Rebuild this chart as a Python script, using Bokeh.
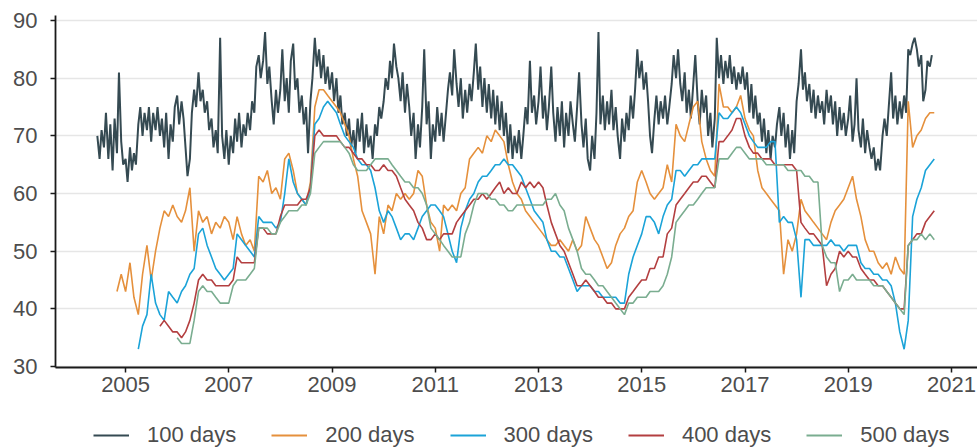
import pandas as pd
from bokeh.plotting import figure
from bokeh.layouts import column
from bokeh.models import Range1d, FixedTicker, Legend, LegendItem, ColumnDataSource
from bokeh.embed import file_html
from bokeh.resources import INLINE

# ---- axis ticks -------------------------------------------------------
tick_years = [2005, 2007, 2009, 2011, 2013, 2015, 2017, 2019, 2021]
tick_labels = [str(y) for y in tick_years]
y_ticks = [30, 40, 50, 60, 70, 80, 90]

# ---- series -----------------------------------------------------------
series_names = ["100 days", "200 days", "300 days", "400 days", "500 days"]
series_colors = ["#354a52", "#e5903c", "#1ba3d8", "#b33f40", "#7aad90"]

# 100-day window, twice a month from mid-June 2004
start_100 = "2004-06-15"
v100 = [
    70, 66, 71, 68, 74, 66, 72, 64, 73, 67, 81, 69, 65,
    66, 62, 68, 64, 67, 65, 72, 75, 70, 74, 71, 75, 69, 74, 71, 75, 70, 73, 68, 74, 66, 72, 69, 75,
    77, 72, 76, 73, 68, 63, 66, 74, 78, 75, 81, 76, 78, 74, 76, 71, 73, 68, 71, 67, 87, 70, 66, 71,
    65, 70, 67, 73, 69, 74, 68, 72, 70, 74, 71, 76, 74, 82, 84, 80, 83, 88, 79, 82, 76, 72, 78, 74,
    78, 85, 76, 80, 74, 83, 86, 78, 80, 74, 77, 72, 75, 67, 76, 80, 87, 82, 85, 80, 84, 79, 82, 78,
    81, 76, 80, 74, 77, 72, 74, 70, 73, 68, 71, 67, 73, 69, 74, 67, 72, 68, 70, 66, 72, 70, 75, 73,
    76, 80, 78, 83, 80, 86, 82, 80, 76, 81, 74, 79, 75, 70, 74, 66, 72, 68, 75, 85, 72, 76, 66, 72,
    69, 75, 70, 74, 69, 73, 78, 81, 77, 85, 79, 75, 80, 73, 78, 74, 79, 76, 81, 86, 78, 82, 75, 80,
    74, 79, 73, 78, 72, 77, 71, 76, 70, 74, 67, 72, 66, 70, 67, 71, 66, 70, 75, 72, 83, 74, 77, 72,
    76, 82, 73, 77, 71, 75, 82, 74, 69, 75, 70, 76, 68, 74, 70, 76, 72, 69, 75, 81, 72, 68, 73, 66,
    64, 70, 66, 74, 88, 72, 77, 71, 76, 72, 78, 71, 75, 70, 66, 73, 69, 74, 71, 77, 73, 78, 85, 80,
    83, 78, 81, 76, 70, 67, 73, 77, 72, 76, 73, 77, 72, 75, 79, 84, 80, 85, 79, 76, 81, 74, 78, 73,
    79, 84, 76, 72, 78, 74, 77, 70, 74, 68, 73, 87, 80, 84, 79, 83, 80, 84, 79, 82, 78, 81, 79, 82,
    78, 81, 74, 79, 73, 77, 72, 74, 69, 73, 67, 71, 66, 70, 68, 72, 75, 70, 74, 68, 72, 66, 71, 67,
    76, 79, 85, 78, 81, 76, 79, 74, 78, 73, 77, 74, 76, 72, 78, 74, 77, 72, 76, 70, 75, 71, 74, 70,
    73, 77, 69, 72, 80, 71, 68, 73, 67, 71, 68, 66, 68, 64, 66, 64, 70, 73, 70, 75, 81, 73, 77, 72,
    76, 73, 77, 74, 85, 84, 86, 87, 85, 82, 84, 76, 78, 83, 82, 84,
]

# longer windows, monthly
start_200 = "2004-11-01"
v200 = [
    43, 46,
    43, 48, 42, 39, 46, 51, 45, 50, 54, 57, 56, 58,
    56, 55, 57, 61, 50, 57, 55, 56, 53, 55, 54, 56,
    55, 52, 56, 53, 51, 52, 50, 63, 62, 64, 60, 61,
    59, 66, 67, 64, 60, 59, 58, 62, 75, 78, 78, 77,
    76, 75, 74, 72, 70, 66, 63, 57, 55, 53, 46, 56,
    53, 58, 57, 60, 59, 60, 59, 60, 64, 63, 58, 55,
    54, 50, 58, 57, 58, 57, 60, 61, 66, 67, 68, 67,
    70, 69, 71, 70, 69, 65, 62, 60, 59, 57, 56, 55,
    54, 53, 52, 51, 51, 52, 51, 50, 52, 50, 51, 56,
    54, 52, 51, 49, 47, 48, 51, 53, 54, 56, 57, 62,
    64, 62, 60, 59, 60, 61, 65, 62, 72, 70, 69, 72,
    75, 76, 69, 66, 64, 63, 79, 75, 75, 74, 75, 77,
    73, 71, 70, 64, 61, 60, 59, 58, 57, 46, 52, 50,
    53, 59, 57, 56, 55, 54, 53, 52, 55, 57, 58, 59,
    61, 63, 59, 56, 52, 50, 50, 48, 47, 48, 46, 49,
    47, 46, 76, 68, 70, 71, 73, 74, 74,
]

start_300 = "2005-04-01"
v300 = [
    33, 37, 39, 46, 41, 39, 38, 43, 42,
    41, 43, 44, 46, 47, 53, 54, 51, 49, 47, 46, 45,
    46, 47, 53, 52, 51, 50, 49, 56, 55, 55, 55, 54,
    55, 60, 66, 62, 60, 59, 58, 61, 72, 73, 75, 76,
    75, 74, 72, 70, 69, 68, 66, 65, 65, 64, 61, 57,
    55, 57, 56, 54, 52, 53, 53, 52, 54, 56, 57, 58,
    58, 57, 56, 53, 50, 48, 54, 57, 59, 60, 62, 63,
    63, 64, 65, 65, 66, 65, 65, 64, 63, 61, 59, 57,
    56, 55, 52, 50, 50, 49, 49, 47, 45, 43, 44, 44,
    44, 43, 43, 42, 42, 42, 42, 41, 41, 46, 49, 51,
    53, 56, 56, 55, 53, 56, 58, 59, 64, 64, 63, 64,
    65, 65, 66, 66, 66, 66, 74, 73, 73, 74, 75, 74,
    72, 70, 69, 68, 68, 68, 69, 69, 55, 56, 55, 55,
    52, 42, 52, 52, 51, 51, 51, 51, 52, 51, 51, 50,
    51, 51, 51, 48, 47, 47, 46, 46, 45, 45, 44, 41,
    36, 33, 38, 56, 59, 61, 64, 65, 66,
]

start_400 = "2005-09-01"
v400 = [
    37, 38, 37, 36,
    36, 35, 36, 38, 41, 45, 46, 45, 45, 44, 44, 44,
    44, 45, 49, 48, 48, 48, 48, 54, 54, 53, 53, 53,
    56, 58, 58, 58, 58, 59, 59, 61, 70, 71, 70, 70,
    70, 70, 69, 68, 68, 67, 66, 66, 65, 65, 64, 64,
    65, 64, 64, 63, 61, 59, 58, 57, 55, 54, 52, 52,
    53, 52, 53, 53, 53, 55, 56, 57, 58, 59, 59, 60,
    59, 60, 61, 62, 60, 61, 60, 60, 62, 61, 62, 61,
    62, 61, 58, 55, 53, 51, 50, 48, 46, 44, 44, 45,
    44, 43, 42, 42, 41, 41, 40, 40, 40, 42, 43, 44,
    45, 45, 47, 47, 49, 49, 53, 54, 58, 59, 60, 61,
    62, 62, 63, 63, 62, 61, 69, 69, 70, 71, 73, 73,
    70, 68, 67, 67, 66, 66, 66, 65, 65, 65, 65, 65,
    64, 55, 54, 53, 53, 52, 51, 44, 46, 47, 50, 49,
    50, 49, 49, 47, 46, 45, 45, 44, 44, 43, 42, 41,
    40, 40, 51, 52, 53, 53, 55, 56, 57,
]

start_500 = "2006-01-01"
v500 = [
    35, 34, 34, 34, 38, 43, 44, 43, 43, 42, 41, 41,
    41, 44, 45, 45, 45, 46, 47, 54, 54, 54, 53, 53,
    55, 56, 57, 57, 57, 58, 58, 60, 67, 68, 69, 69,
    69, 69, 69, 68, 67, 65, 64, 64, 64, 65, 66, 66,
    66, 66, 65, 64, 63, 62, 62, 61, 61, 60, 58, 54,
    53, 52, 51, 50, 49, 49, 49, 53, 55, 58, 60, 60,
    60, 59, 59, 58, 58, 57, 57, 58, 58, 58, 58, 58,
    58, 58, 59, 59, 60, 58, 57, 54, 52, 50, 47, 46,
    46, 45, 44, 44, 43, 42, 41, 40, 39, 41, 41, 42,
    42, 42, 43, 43, 43, 44, 46, 49, 55, 56, 57, 58,
    58, 59, 60, 61, 61, 61, 66, 66, 66, 67, 68, 68,
    67, 66, 66, 66, 66, 65, 65, 65, 65, 65, 64, 64,
    64, 64, 63, 63, 62, 62, 51, 49, 48, 48, 43, 45,
    45, 46, 45, 45, 45, 45, 44, 44, 44, 43, 42, 41,
    40, 39, 51, 52, 52, 53, 52, 53, 52,
]

series = [
    (pd.date_range(start_100, periods=len(v100), freq="SMS"), v100),
    (pd.date_range(start_200, periods=len(v200), freq="MS"), v200),
    (pd.date_range(start_300, periods=len(v300), freq="MS"), v300),
    (pd.date_range(start_400, periods=len(v400), freq="MS"), v400),
    (pd.date_range(start_500, periods=len(v500), freq="MS"), v500),
]
sources = [ColumnDataSource(dict(date=d, value=v)) for d, v in series]

# ---- main chart ---------------------------------------------------------
FONT = "Liberation Sans"
TEXT = "#4d4d4d"

p = figure(
    width=977, height=400,
    x_axis_type="datetime",
    x_range=Range1d(pd.Timestamp("2003-08-24"), pd.Timestamp("2021-07-04")),
    y_range=Range1d(29.83, 90.87),
    output_backend="svg", toolbar_location=None,
    min_border_left=55, min_border_right=0, min_border_top=15, min_border_bottom=33,
)
p.outline_line_color = None
p.background_fill_color = "white"
p.border_fill_color = "white"

for src, name, color in zip(sources, series_names, series_colors):
    width = 2.0 if name == "100 days" else 1.6
    p.line("date", "value", source=src, line_color=color, line_width=width)

p.xaxis.ticker = FixedTicker(ticks=[pd.Timestamp(f"{y}-01-01").value // 10**6 for y in tick_years])
p.xaxis.major_label_overrides = {
    pd.Timestamp(f"{y}-01-01").value // 10**6: lab for y, lab in zip(tick_years, tick_labels)
}
p.yaxis.ticker = FixedTicker(ticks=y_ticks)

for ax in (p.xaxis, p.yaxis):
    ax.axis_line_color = "#1a1a1a"
    ax.axis_line_width = 1.8
    ax.major_tick_line_color = "#1a1a1a"
    ax.major_tick_line_width = 1.5
    ax.major_tick_out = 5
    ax.major_tick_in = 0
    ax.minor_tick_line_color = None
    ax.major_label_text_font = FONT
    ax.major_label_text_font_size = "22px"
    ax.major_label_text_color = TEXT
p.xaxis.major_label_standoff = 4
p.yaxis.major_label_standoff = 13

p.xgrid.grid_line_color = None
p.ygrid.grid_line_color = "#e6e6e6"
p.ygrid.grid_line_width = 1.5

# ---- key strip underneath ---------------------------------------------
# same sources, but this strip's ranges keep the lines themselves out of view
k = figure(
    width=977, height=48,
    x_range=Range1d(0, 1), y_range=Range1d(0, 1),
    x_axis_location=None, y_axis_location=None,
    output_backend="svg", toolbar_location=None,
    min_border=0,
)
k.outline_line_color = None
k.xgrid.grid_line_color = None
k.ygrid.grid_line_color = None

items = []
for src, name, color in zip(sources, series_names, series_colors):
    r = k.line("date", "value", source=src, line_color=color, line_width=1.8)
    items.append(LegendItem(label=name, renderers=[r]))

legend = Legend(
    items=items, orientation="horizontal", location=(38, 0),
    label_text_font=FONT, label_text_font_size="22px", label_text_color=TEXT,
    glyph_width=36, glyph_height=20, label_standoff=18, spacing=35,
    border_line_color=None, background_fill_alpha=0, padding=0, margin=0,
)
k.add_layout(legend, "center")

layout = column(p, k, spacing=0)
open("out.html", "w").write(file_html(layout, INLINE))
